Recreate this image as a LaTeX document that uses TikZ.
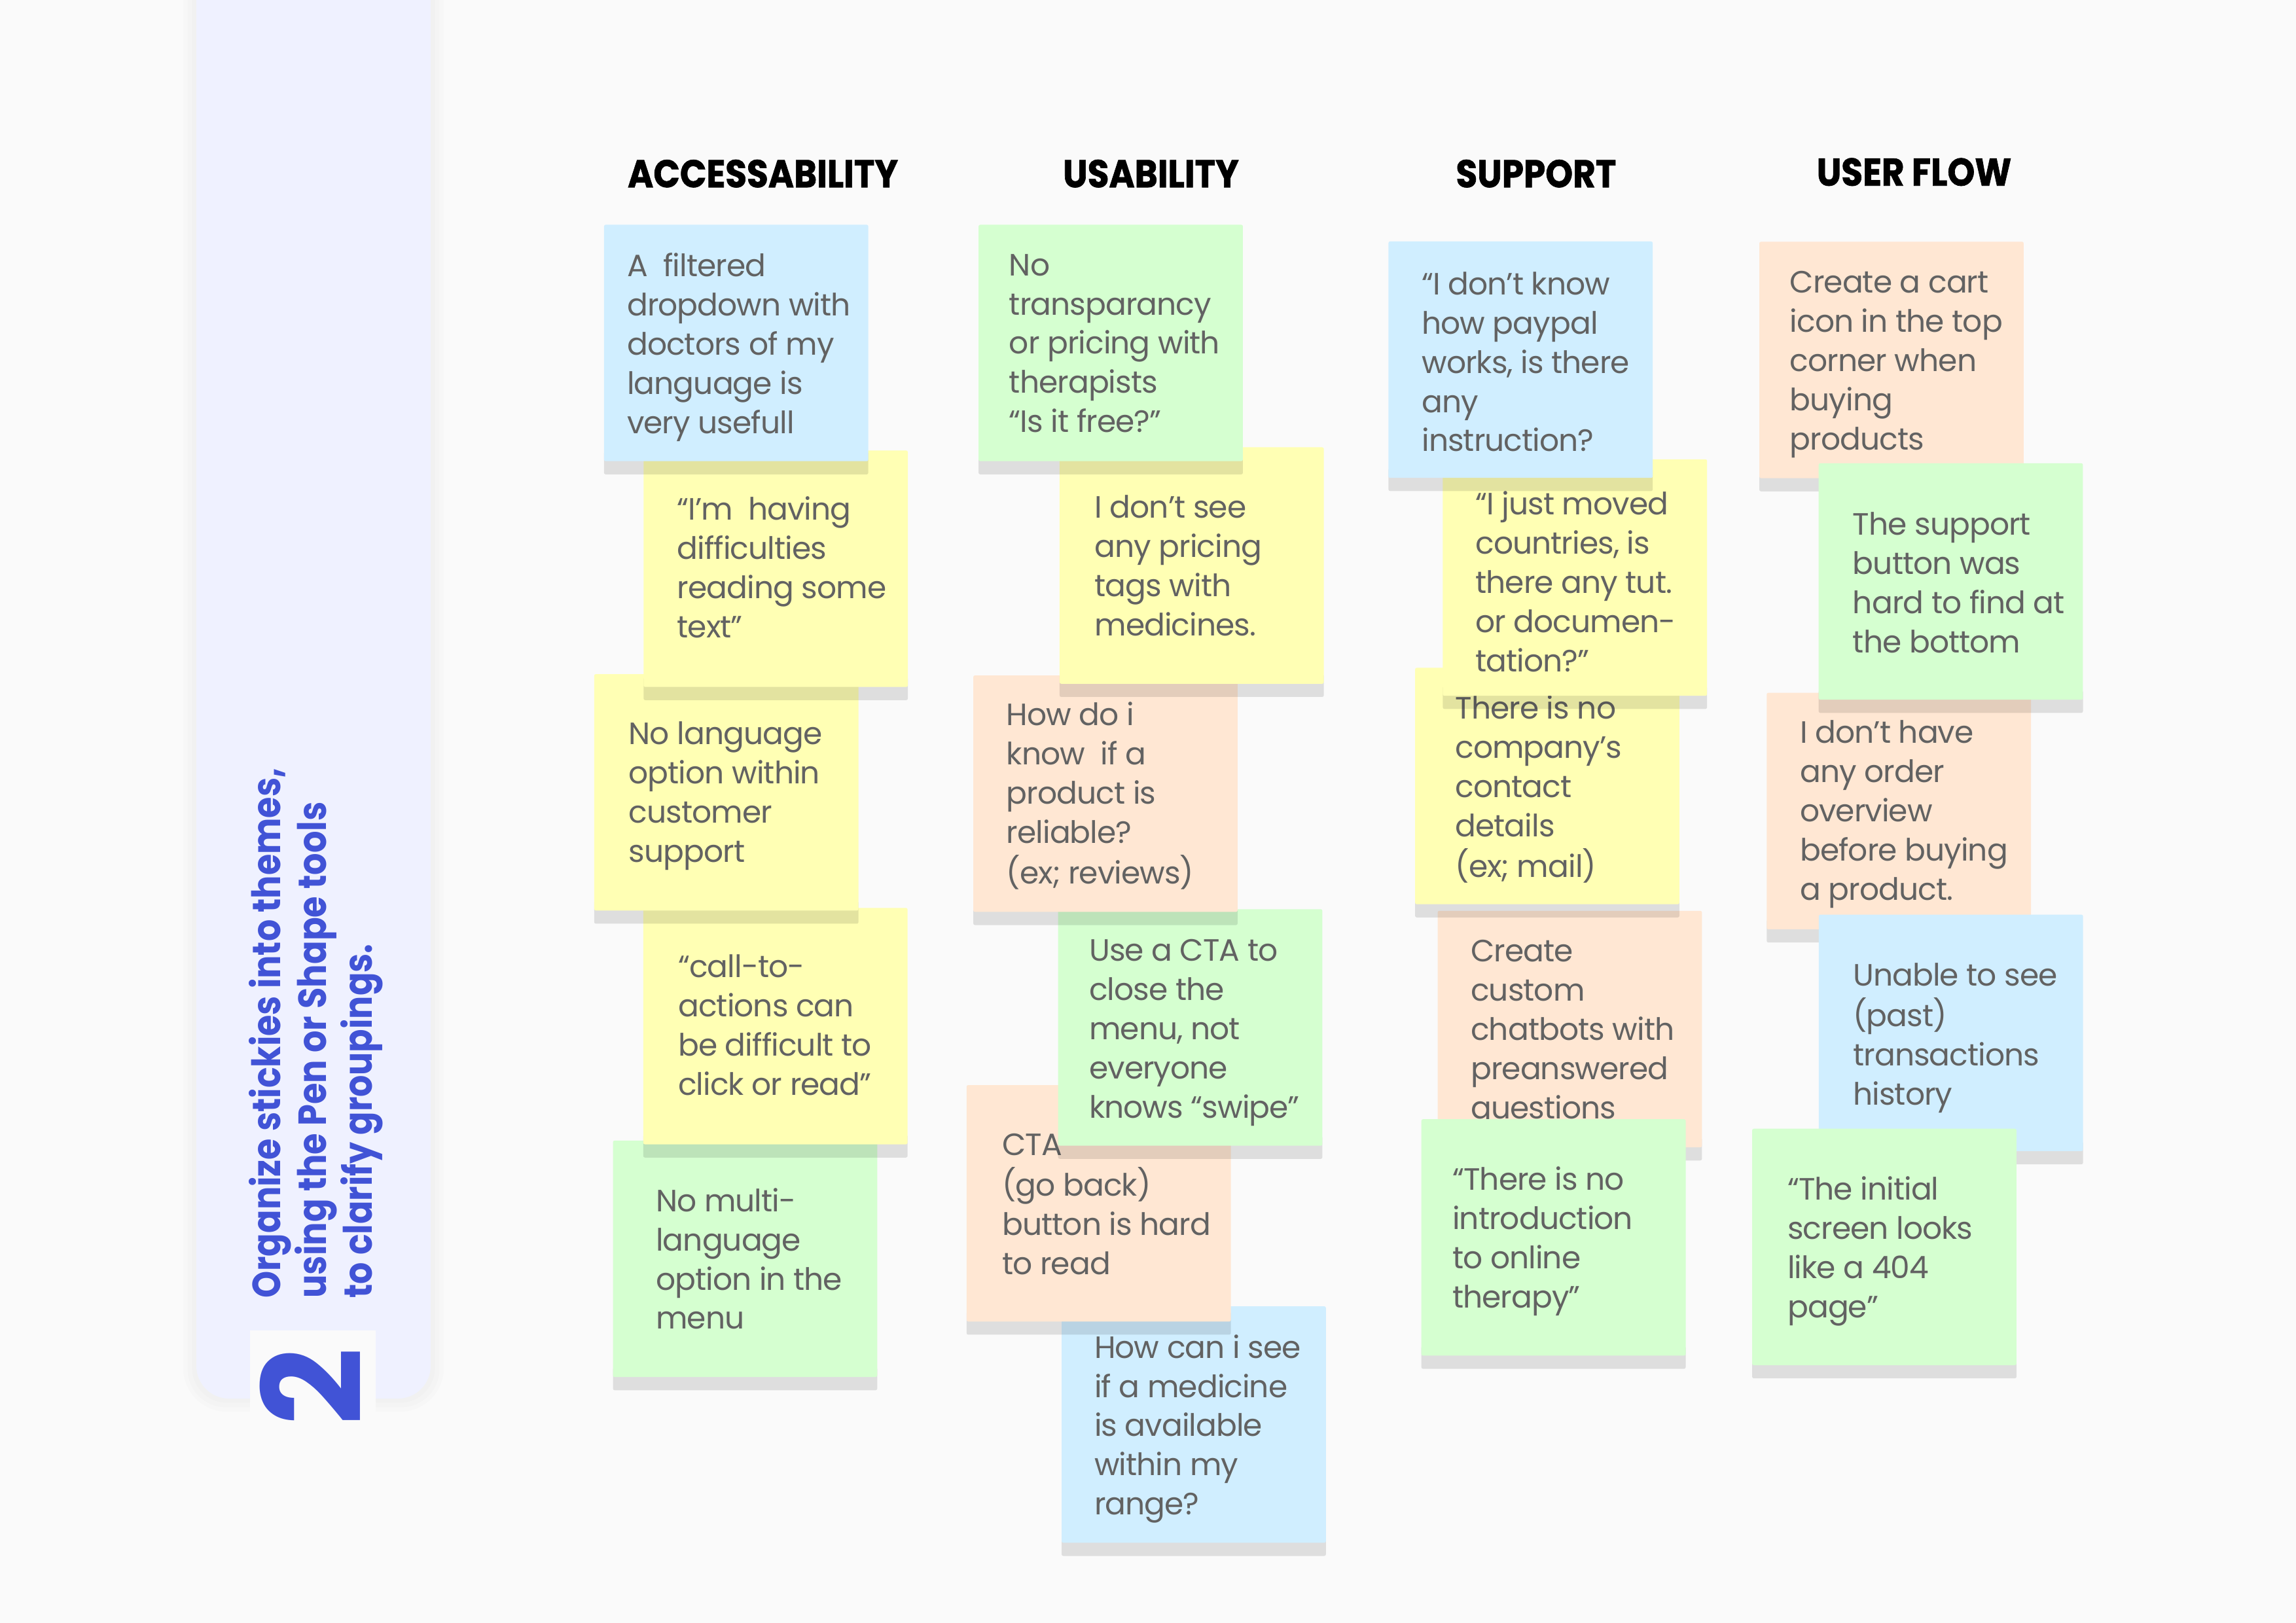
\documentclass[tikz,border=0pt]{standalone}
\usepackage{fontspec}
\usepackage{graphicx}
\setmainfont{Poppins}
\newfontfamily\notefont{Poppins}[LetterSpace=-2]
\newfontfamily\headfont{Poppins}[BoldFeatures={FakeBold=1.2}]
\definecolor{bg}{HTML}{FAFAFA}
\definecolor{nblue}{HTML}{D0EEFF}
\definecolor{ngreen}{HTML}{D5FFD0}
\definecolor{nyellow}{HTML}{FFFFB4}
\definecolor{norange}{HTML}{FFE7D3}
\definecolor{ntext}{HTML}{626262}
\definecolor{side}{HTML}{EFF1FF}
\definecolor{accent}{HTML}{4153D6}
\tikzset{
  notebox/.style={anchor=north west, minimum width=96.91pt, minimum height=86.71pt,
    inner sep=0pt, outer sep=0pt, rounded corners=0.6pt},
  notetext/.style={anchor=base west, inner sep=0pt, text=ntext,
    font=\notefont\fontsize{11.3}{14.39}\selectfont},
  header/.style={anchor=base, inner sep=0pt, font=\headfont\bfseries\fontsize{14.2}{16}\selectfont},
  sidetext/.style={rotate=90, anchor=base west, inner sep=0pt, text=accent,
    font=\bfseries\fontsize{14.4}{16}\selectfont},
  noteshadow/.style={fill=black, opacity=0.11, rounded corners=0.6pt},
}
\newcommand\sticky[7]{%
  \fill[noteshadow] ({#2},{#3+155}) rectangle ({#2+180.5},{#3+170.5});
  \node[notebox, fill=#4] (#1) at ({#2},{#3}) {};
  \node[notetext] (#1t) at ({#5},{#6}) {\begin{tabular}[t]{@{}l@{}}#7\end{tabular}};
}
\begin{document}
\begin{tikzpicture}[x=0.53692pt, y=-0.53692pt]
\useasboundingbox (0,0) rectangle (1568,1108.5);
\fill[bg] (0,0) rectangle (1568,1108.5);
% sidebar
\fill[black, opacity=0.012, rounded corners=16pt] (125.1,-40) rectangle (303.1,964.2);
\fill[black, opacity=0.012, rounded corners=14pt] (128.1,-40) rectangle (300.1,961.2);
\fill[black, opacity=0.012, rounded corners=13pt] (131.1,-40) rectangle (297.1,958.2);
\fill[side, rounded corners=12pt] (134.1,-40) rectangle (294.1,955.2);
\fill[bg] (170.7,908.7) rectangle (256.6,990);
\node[sidetext] (s1) at (191.4,887) {\resizebox{194.4pt}{\height}{Organize stickies into themes,}};
\node[sidetext] (s2) at (222.6,887) {\resizebox{182.0pt}{\height}{using the Pen or Shape tools}};
\node[sidetext] (s3) at (253.9,887) {\resizebox{129.9pt}{\height}{to clarify groupings.}};
\node[rotate=90, inner sep=0pt, text=accent, font=\bfseries\fontsize{50}{50}\selectfont] (num) at (212,947) {2};
% headers
\node[header] (h1) at (521,127.9) {\scalebox{0.9}[1]{ACCESSABILITY}};
\node[header] (h2) at (786,127.9) {\scalebox{0.9}[1]{USABILITY}};
\node[header] (h3) at (1049,127.9) {\scalebox{0.9}[1]{SUPPORT}};
\node[header] (h4) at (1307.2,126.8) {\scalebox{0.9}[1]{USER FLOW}};
% column 1
\sticky{n5}{418.6}{779.0}{ngreen}{447.6}{827.4}{No multi-\\language\\option in the\\menu}
\sticky{n4}{439.3}{620.1}{nyellow}{462.8}{667.5}{“call-to-\\actions can\\be difficult to\\click or read”}
\sticky{n3}{405.8}{460.4}{nyellow}{429.0}{508.5}{No language\\option within\\customer\\support}
\sticky{n2}{439.5}{307.7}{nyellow}{462.1}{355.0}{“I’m\ \ having\\difficulties\\reading some\\text”}
\sticky{n1}{412.5}{153.5}{nblue}{427.9}{188.9}{A\ \ filtered\\dropdown with\\doctors of my\\language is\\very usefull}
% column 2
\sticky{n11}{725.0}{892.2}{nblue}{747.0}{927.5}{How can i see\\if a medicine\\is available\\within my\\range?}
\sticky{n10}{660.1}{741.1}{norange}{684.1}{789.0}{CTA\\(go back)\\button is hard\\to read}
\sticky{n9}{722.6}{621.0}{ngreen}{743.5}{656.3}{Use a CTA to\\close the\\menu, not\\everyone\\knows “swipe”}
\sticky{n8}{664.7}{461.3}{norange}{687.0}{495.5}{How do i\\know\ \ if a\\product is\\reliable?\\(ex; reviews)}
\sticky{n7}{723.6}{305.5}{nyellow}{747.2}{353.7}{I don’t see\\any pricing\\tags with\\medicines.}
\sticky{n6}{668.3}{153.5}{ngreen}{688.8}{188.2}{No\\transparancy\\or pricing with\\therapists\\“Is it free?”}
% column 3
\sticky{n15}{981.8}{622.1}{norange}{1004.1}{656.7}{Create\\custom\\chatbots with\\preanswered\\questions}
\sticky{n16}{970.7}{764.4}{ngreen}{991.6}{812.8}{“There is no\\introduction\\to online\\therapy”}
\sticky{n14}{966.4}{456.1}{nyellow}{993.5}{491.2}{There is no\\company’s\\contact\\details\\(ex; mail)}
\sticky{n13}{985.3}{313.7}{nyellow}{1007.3}{351.5}{“I just moved\\countries, is\\there any tut.\\or documen-\\tation?”}
\sticky{n12}{948.2}{164.9}{nblue}{970.6}{201.2}{“I don’t know\\how paypal\\works, is there\\any\\instruction?}
% column 4
\sticky{n17}{1201.5}{165.1}{norange}{1222.0}{200.2}{Create a cart\\icon in the top\\corner when\\buying\\products}
\sticky{n19}{1206.5}{473.2}{norange}{1228.9}{507.6}{I don’t have\\any order\\overview\\before buying\\a product.}
\sticky{n18}{1242.0}{316.4}{ngreen}{1265.0}{365.5}{The support\\button was\\hard to find at\\the bottom}
\sticky{n20}{1242.1}{624.7}{nblue}{1265.2}{673.2}{Unable to see\\(past)\\transactions\\history}
\sticky{n21}{1196.6}{770.9}{ngreen}{1220.4}{819.7}{“The initial\\screen looks\\like a 404\\page”}
\end{tikzpicture}
\end{document}
